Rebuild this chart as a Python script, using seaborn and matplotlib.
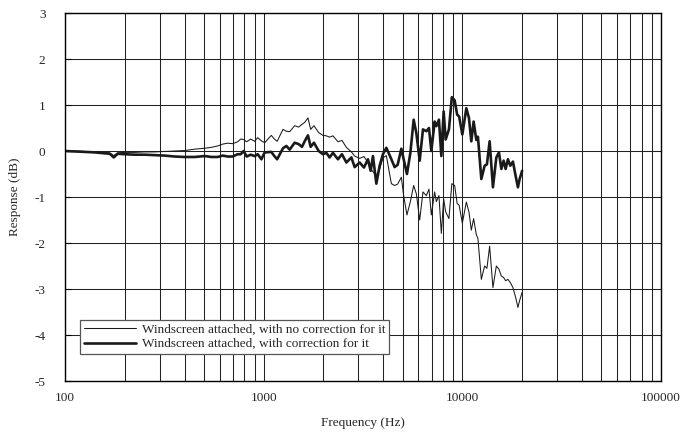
import numpy as np
import pandas as pd
import matplotlib
matplotlib.use("Agg")
import matplotlib.pyplot as plt
import seaborn as sns
from matplotlib.ticker import LogLocator, FixedLocator, NullFormatter

# Frequencies (Hz) at which both curves were read
freq = [100, 112, 126, 141, 158, 168, 176, 184, 200, 224, 252, 283, 318, 357, 400,
        450, 505, 547, 587, 622, 659, 698, 740, 766, 793, 821, 860, 901, 933, 974,
        1012, 1093, 1127, 1169, 1251, 1301, 1352, 1432, 1500, 1559, 1608, 1671, 1724,
        1791, 1892, 1988, 2068, 2148, 2232, 2366, 2478, 2608, 2764, 2871, 3042, 3197,
        3349, 3455, 3549, 3691, 3835, 3985, 4145, 4393, 4563, 4725, 4932, 5066, 5263,
        5475, 5688, 5869, 6099, 6337, 6591, 6793, 6982, 7255, 7400, 7625, 7840, 8053,
        8242, 8561, 8855, 9148, 9417, 9637, 10000, 10474, 10794, 11098, 11398, 11760,
        11980, 12463, 12949, 13299, 13722, 14257, 14830, 15284, 15715, 16141, 16517,
        16962, 17440, 17974, 18545, 19046, 19427, 20000]

# Windscreen attached, with no correction for it (dB)
no_corr = [0.0, 0.0, -0.01, -0.02, -0.03, -0.04, -0.10, -0.04, -0.03, -0.03, -0.02,
           -0.02, -0.01, 0.0, 0.01, 0.04, 0.06, 0.08, 0.11, 0.15, 0.17, 0.16, 0.20,
           0.26, 0.25, 0.20, 0.26, 0.21, 0.29, 0.22,
           0.18, 0.34, 0.27, 0.21, 0.47, 0.43, 0.42, 0.55, 0.52, 0.58, 0.62, 0.72, 0.47,
           0.55, 0.40, 0.34, 0.33, 0.30, 0.33, 0.20, 0.23, 0.08, -0.02, -0.11, -0.16,
           -0.12, -0.25, -0.38, -0.45, -0.54, -0.39, -0.15, -0.10, -0.71, -0.75, -0.72,
           -0.57, -0.97, -1.39, -1.10, -0.75, -0.93, -1.50, -0.89, -0.97, -0.83, -1.39,
           -0.89, -1.10, -0.97, -1.79, -1.04, -1.32, -1.47, -0.71, -0.75, -1.14, -1.18,
           -1.57, -1.11, -1.32, -1.72, -1.47, -1.82, -1.90, -2.79, -2.50, -2.55, -2.07,
           -2.97, -2.50, -2.57, -2.72, -2.75, -2.82, -2.79, -2.86, -2.97, -3.18, -3.40,
           -3.25, -3.07]

# Windscreen attached, with correction for it (dB)
with_corr = [0.0, -0.01, -0.02, -0.03, -0.05, -0.06, -0.14, -0.06, -0.07, -0.08, -0.08,
             -0.09, -0.10, -0.12, -0.13, -0.13, -0.11, -0.13, -0.13, -0.10, -0.12, -0.12,
             -0.07, -0.07, 0.0, -0.12, -0.08, -0.11, -0.07, -0.18,
             -0.03, -0.02, -0.10, -0.18, 0.06, 0.11, 0.03, 0.18, 0.15, 0.09, 0.21, 0.34,
             0.09, 0.18, 0.0, -0.07, -0.04, -0.14, -0.04, -0.18, -0.07, -0.25, -0.14,
             -0.35, -0.25, -0.36, -0.18, -0.43, -0.11, -0.71, -0.32, -0.07, 0.07, -0.18,
             -0.35, -0.30, 0.05, -0.18, -0.50, -0.04, 0.68, 0.39, -0.21, 0.47, 0.43, 0.50,
             0.0, 0.64, 0.54, 0.68, -0.11, 0.86, 0.25, 0.47, 1.17, 1.10, 0.79, 0.75, 0.36,
             0.93, 0.72, 0.21, 0.64, 0.24, 0.31, -0.61, -0.32, -0.29, 0.21, -0.79, -0.14,
             -0.03, -0.39, -0.21, -0.39, -0.18, -0.32, -0.23, -0.54, -0.79, -0.61, -0.43]

series_names = ["Windscreen attached, with no correction for it",
                "Windscreen attached, with correction for it"]
x_ticks = [100, 1000, 10000, 100000]
x_ticklabels = ["100", "1000", "10000", "100000"]
y_ticks = [3, 2, 1, 0, -1, -2, -3, -4, -5]
y_ticklabels = ["3", "2", "1", "0", "-1", "-2", "-3", "-4", "-5"]

df = pd.DataFrame({
    "freq": freq * 2,
    "resp": no_corr + with_corr,
    "series": [series_names[0]] * len(freq) + [series_names[1]] * len(freq),
})

sns.set_style("white")
plt.rcParams["font.family"] = ["Liberation Serif", "DejaVu Serif"]

fig = plt.figure(figsize=(6.83, 4.36), dpi=100)
ax = fig.add_axes([65 / 683, 1 - 381 / 436, 596 / 683, 368 / 436])

widths = [0.75, 1.9]
for name, lw in zip(series_names, widths):
    sns.lineplot(data=df[df["series"] == name], x="freq", y="resp", ax=ax,
                 color="#1a1a1a", linewidth=lw, sort=False, estimator=None,
                 label=name)

ax.set_xscale("log")
ax.set_xlim(100, 100000)
ax.set_ylim(-5, 3)
ax.xaxis.set_major_locator(FixedLocator(x_ticks))
ax.set_xticklabels(x_ticklabels)
ax.xaxis.set_minor_locator(LogLocator(base=10, subs=range(2, 10)))
ax.xaxis.set_minor_formatter(NullFormatter())
ax.set_yticks(y_ticks)
ax.set_yticklabels(y_ticklabels)

ax.grid(True, which="major", axis="both", color="#222222", linewidth=0.75)
ax.grid(True, which="minor", axis="x", color="#222222", linewidth=0.75)
ax.set_axisbelow(True)

ax.tick_params(axis="y", which="major", direction="in", length=4, width=0.8,
               pad=14, labelsize=9.5, left=True, color="black")
ax.tick_params(axis="x", which="both", length=0, pad=8, labelsize=9.5)

for sp in ax.spines.values():
    sp.set_visible(True)
    sp.set_color("black")
    sp.set_linewidth(1.0)

ax.set_xlabel("Frequency (Hz)", fontsize=9.5, labelpad=9)
ax.set_ylabel("Response (dB)", fontsize=9.5, labelpad=10)

leg = ax.legend(loc="lower left", bbox_to_anchor=(0.026, 0.073), borderaxespad=0,
                fontsize=9.5, frameon=True, fancybox=False, handlelength=3.9,
                handletextpad=0.45, labelspacing=0.15, borderpad=0.3)
leg.get_frame().set_edgecolor("#555555")
leg.get_frame().set_linewidth(0.9)
leg.get_frame().set_facecolor("white")
leg.get_frame().set_alpha(1.0)

fig.savefig("out.png", dpi=100)
